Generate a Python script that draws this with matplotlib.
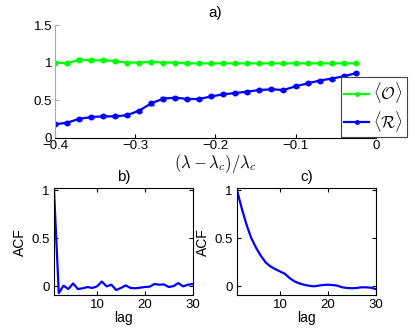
import numpy as np
import matplotlib
matplotlib.use("Agg")
import matplotlib.pyplot as plt
from matplotlib.lines import Line2D

plt.rcParams['font.family'] = ['Liberation Sans', 'DejaVu Sans']
plt.rcParams['mathtext.fontset'] = 'cm'

# -------------------------------------------------------------------
#                       top panel: order parameters
# -------------------------------------------------------------------
lam = [-0.400, -0.385, -0.370, -0.355, -0.340, -0.325, -0.310, -0.295, -0.280,
       -0.265, -0.250, -0.235, -0.220, -0.205, -0.190, -0.175, -0.160, -0.145,
       -0.130, -0.115, -0.100, -0.085, -0.070, -0.055, -0.040, -0.025]

O_mean = [1.00, 0.99, 1.04, 1.03, 1.03, 1.02, 1.00, 1.00, 1.01, 1.00, 1.00,
          0.99, 0.99, 0.99, 0.99, 0.99, 0.99, 0.99, 0.99, 0.99, 0.99, 0.99,
          0.99, 0.99, 0.99, 0.99]
O_err = [0.008, 0.008, 0.015, 0.015, 0.015, 0.012, 0.008, 0.008, 0.010, 0.008,
         0.008, 0.006, 0.006, 0.006, 0.006, 0.006, 0.006, 0.006, 0.006, 0.006,
         0.006, 0.006, 0.006, 0.006, 0.006, 0.006]

R_mean = [0.178, 0.20, 0.25, 0.275, 0.284, 0.284, 0.30, 0.36, 0.457, 0.52,
          0.533, 0.515, 0.515, 0.55, 0.577, 0.595, 0.613, 0.635, 0.644, 0.635,
          0.683, 0.723, 0.76, 0.786, 0.817, 0.857]
R_err = [0.012, 0.012, 0.014, 0.014, 0.014, 0.012, 0.012, 0.015, 0.018, 0.016,
         0.014, 0.014, 0.012, 0.012, 0.012, 0.012, 0.012, 0.012, 0.012, 0.012,
         0.012, 0.012, 0.012, 0.012, 0.012, 0.012]

# -------------------------------------------------------------------
#                       bottom panels: autocorrelation
# -------------------------------------------------------------------
lags = list(range(1, 31))

acf_b = [1.0, -0.07, 0.007, -0.028, 0.03, -0.028, -0.02, -0.007, -0.017, 0.0,
         0.05, 0.0, 0.017, -0.038, -0.017, 0.01, -0.017, -0.02, -0.014, -0.007,
         -0.003, 0.024, 0.017, 0.02, -0.007, 0.003, 0.034, 0.0, 0.017, 0.024]

acf_c = [1.0, 0.81, 0.64, 0.50, 0.40, 0.317, 0.248, 0.207, 0.179, 0.155,
         0.131, 0.086, 0.052, 0.031, 0.017, 0.007, 0.0, 0.007, 0.014, 0.017,
         0.014, 0.007, -0.01, -0.017, -0.02, -0.017, -0.01, -0.01, -0.014, -0.028]

W, H = 415, 333
fig = plt.figure(figsize=(W / 100, H / 100), dpi=100)


def box(x0, y0, x1, y1):
    # pixel box (top-left origin) -> figure fraction rect
    return [x0 / W, 1 - y1 / H, (x1 - x0) / W, (y1 - y0) / H]


green = (0, 1, 0)
blue = (0, 0, 1)

# ---- panel a ----
ax = fig.add_axes(box(55, 25, 375.7, 137.7))
ax.errorbar(lam, O_mean, yerr=O_err, color=green, lw=1.6, marker='.',
            ms=6.5, capsize=2, elinewidth=1.2)
ax.errorbar(lam, R_mean, yerr=R_err, color=blue, lw=1.6, marker='.',
            ms=6.5, capsize=2, elinewidth=1.2)
ax.set_xlim(-0.4, 0)
ax.set_ylim(0, 1.5)
ax.set_xticks([-0.4, -0.3, -0.2, -0.1, 0])
ax.set_xticklabels(['\u22120.4', '\u22120.3', '\u22120.2', '\u22120.1', '0'])
ax.set_yticks([0, 0.5, 1, 1.5])
ax.set_yticklabels(['0', '0.5', '1', '1.5'])
ax.spines['top'].set_visible(False)
ax.spines['right'].set_visible(False)
ax.spines['left'].set_color('#aaaaaa')
ax.tick_params(direction='in', length=3, labelsize=9.5, pad=2)
ax.tick_params(axis='y', colors='#aaaaaa', labelcolor='black')
ax.set_title('a)', fontsize=11, pad=6)
ax.set_xlabel(r'$(\lambda-\lambda_c)/\lambda_c$', fontsize=12, labelpad=0)

handles = [Line2D([], [], color=green, lw=1.6, marker='.', ms=5),
           Line2D([], [], color=blue, lw=1.6, marker='.', ms=5)]
leg = ax.legend(handles, [r'$\langle\mathcal{O}\rangle$', r'$\langle\mathcal{R}\rangle$'],
                loc='lower right', bbox_to_anchor=(406.7 / W, 1 - 137.3 / H),
                bbox_transform=fig.transFigure, fancybox=False, fontsize=12,
                handlelength=1.45, borderpad=0.22, labelspacing=0.2,
                handletextpad=0.25, borderaxespad=0)
leg.get_frame().set_edgecolor('#444444')
leg.get_frame().set_linewidth(0.8)
leg.get_frame().set_alpha(1)

# ---- panels b and c ----
for x0, acf, name in [(54, acf_b, 'b)'), (237, acf_c, 'c)')]:
    a2 = fig.add_axes(box(x0, 188.3, x0 + 138.7, 295))
    a2.plot(lags, acf, color=blue, lw=1.6)
    a2.set_xlim(1, 30)
    a2.set_ylim(-0.09, 1.02)
    a2.set_xticks([10, 20, 30])
    a2.set_yticks([0, 0.5, 1])
    a2.set_yticklabels(['0', '0.5', '1'])
    a2.tick_params(direction='in', length=3, labelsize=9.5, pad=3,
                   top=True, right=True)
    for s in a2.spines.values():
        s.set_linewidth(0.8)
    a2.set_title(name, fontsize=11, pad=5)
    a2.set_xlabel('lag', fontsize=10, labelpad=0)
    a2.set_ylabel('ACF', fontsize=10, labelpad=3)

plt.savefig("out.png", dpi=100)
